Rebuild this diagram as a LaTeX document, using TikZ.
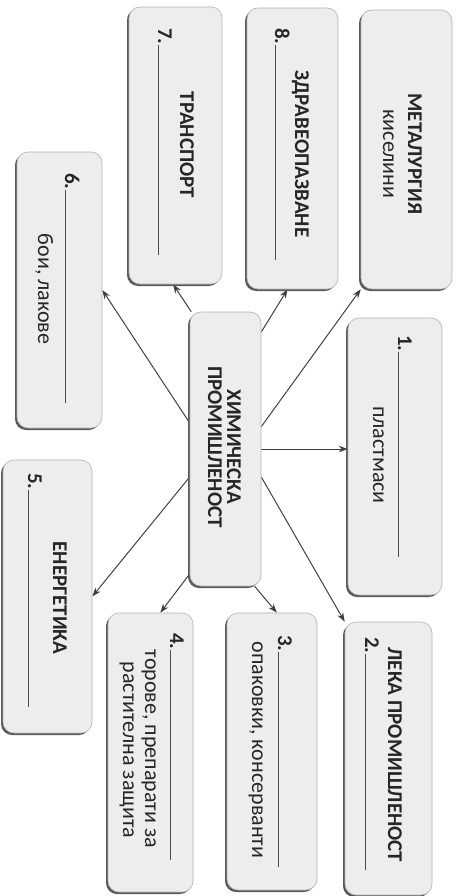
\documentclass[tikz,border=0pt]{standalone}
\usepackage{fontspec}
\setmainfont{Carlito}
\usetikzlibrary{arrows.meta,shadows,backgrounds}

\begin{document}
\begin{tikzpicture}[x=1pt,y=-1pt]
\tikzstyle{every node}=[text=black!85]
\tikzset{
  card/.style={rectangle, rounded corners=11pt, inner sep=0pt, draw=gray!60, line width=0.6pt,
    fill=gray!14,
    drop shadow={shadow xshift=-2pt, shadow yshift=-2pt, fill=black!65, opacity=1}},
  lbl/.style={rotate=-90, inner sep=0pt, anchor=base, font=\fontsize{22}{24}\selectfont},
  caps/.style={lbl, font=\fontsize{21}{24}\selectfont\bfseries},
  num/.style={lbl, anchor=base west, font=\fontsize{21}{24}\selectfont\bfseries},
  blank/.style={black!70, line width=0.6pt},
  link/.style={-{Stealth[length=9pt,width=6.5pt]}, black!75, line width=1pt}
}
\useasboundingbox (0,0) rectangle (458,896);

% boxes
\node[card, minimum width=91pt, minimum height=279pt] (met)  at (406.5,149.5) {};
\node[card, minimum width=91pt, minimum height=281pt] (b8)   at (292.5,148.5) {};
\node[card, minimum width=93pt, minimum height=277pt] (b7)   at (175.5,145.5) {};
\node[card, minimum width=85pt, minimum height=276pt] (b6)   at (59.5,290) {};
\node[card, minimum width=71pt, minimum height=274pt] (chem) at (225.5,449) {};
\node[card, minimum width=94pt, minimum height=277pt] (b1)   at (395,456.5) {};
\node[card, minimum width=89pt, minimum height=273pt] (b5)   at (47.5,596.5) {};
\node[card, minimum width=85pt, minimum height=279pt] (b4)   at (150.5,752.5) {};
\node[card, minimum width=90pt, minimum height=277pt] (b3)   at (272,751.5) {};
\node[card, minimum width=87pt, minimum height=273pt] (b2)   at (388.5,758.5) {};

% centre
\node[caps] (chemA) at (227,447) {ХИМИЧЕСКА};
\node[caps] (chemB) at (208,447) {ПРОМИШЛЕНОСТ};

% example box
\node[caps] (metA) at (408,154) {МЕТАЛУРГИЯ};
\node[lbl] (metB) at (383,154) {киселини};

% numbered blanks
\node[num] (n1) at (398,335) {1.};
\draw[blank] (n1.base east) -- (398,557);
\node[lbl] (a1) at (373,455) {пластмаси};

\node[num] (n2) at (365,637) {2.};
\draw[blank] (n2.base east) -- (365,870);
\node[caps] (a2) at (388,755) {ЛЕКА ПРОМИШЛЕНОСТ};

\node[num] (n3) at (278,635) {3.};
\draw[blank] (n3.base east) -- (278,867);
\node[lbl] (a3) at (252,750) {опаковки, консерванти};

\node[num] (n4) at (170,633) {4.};
\draw[blank] (n4.base east) -- (170,860);
\node[lbl] (a4a) at (145,749) {торове, препарати за};
\node[lbl] (a4b) at (123,750) {растителна защита};

\node[num] (n5) at (28,473) {5.};
\draw[blank] (n5.base east) -- (28,707);
\node[caps] (a5) at (53,598) {ЕНЕРГЕТИКА};

\node[num] (n6) at (65,173) {6.};
\draw[blank] (n6.base east) -- (65,403);
\node[lbl] (a6) at (38,289) {бои, лакове};

\node[num] (n7) at (158,28) {7.};
\draw[blank] (n7.base east) -- (158,255);
\node[caps] (a7) at (180,145) {ТРАНСПОРТ};

\node[num] (n8) at (275,28) {8.};
\draw[blank] (n8.base east) -- (275,260);
\node[caps] (a8) at (295,154) {ЗДРАВЕОПАЗВАНЕ};

% arrows
\begin{scope}[on background layer]
\draw[link] (chem.32)  -- (met.south west);
\draw[link] (chem.73)  -- (b8.-92);
\draw[link] (chem.104) -- (b7.-91);
\draw[link] (chem.144) -- (b6.east);
\draw[link] (chem.east) -- (chem.east -| b1.west);
\draw[link] (chem.-38) -- (b2.north west);
\draw[link] (chem.-78) -- (b3.88);
\draw[link] (chem.254) -- (b4.86);
\draw[link] (chem.218) -- (b5.east);
\end{scope}
\end{tikzpicture}
\end{document}
